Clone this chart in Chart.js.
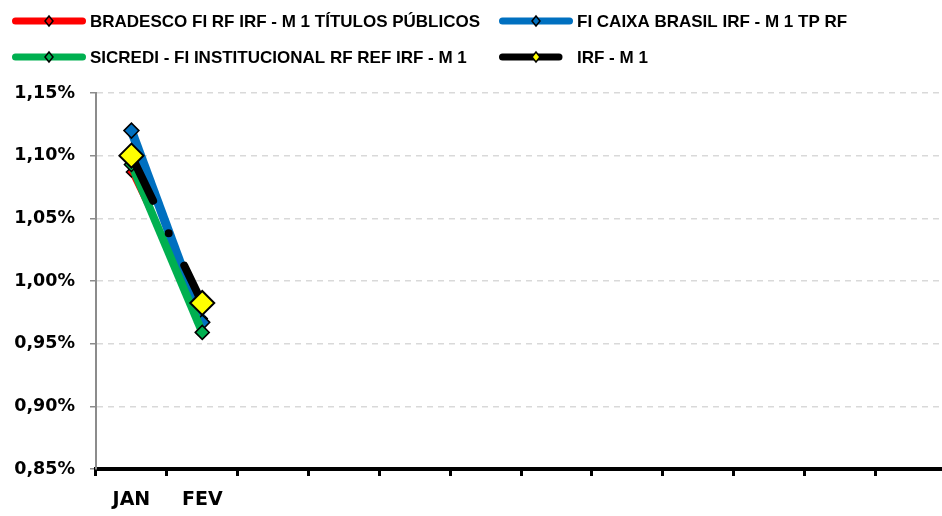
<!DOCTYPE html>
<html>
<head>
<meta charset="utf-8">
<script src="https://cdn.jsdelivr.net/npm/chart.js@4.4.1/dist/chart.umd.min.js"></script>
<style>
  html, body { margin: 0; background: #fff; overflow: hidden; }
  /* o grafico do Excel continua alem da borda direita */
  #wrap { width: 960px; height: 516px; }
</style>
</head>
<body>
<div id="wrap"><canvas id="myChart"></canvas></div>
<script>
// meses (so JAN e FEV tem dados)
var meses = ["JAN", "FEV", "", "", "", "", "", "", "", "", "", ""];
var bradesco = [1.087, 0.970];
var caixa = [1.120, 0.967];
var sicredi = [1.093, 0.959];
var irfm1 = [1.100, 0.9825];
var yTicks = [0.85, 0.90, 0.95, 1.00, 1.05, 1.10, 1.15];

var nomes = ["BRADESCO FI RF IRF - M 1 TÍTULOS PÚBLICOS", "FI CAIXA BRASIL IRF - M 1 TP RF",
             "SICREDI - FI INSTITUCIONAL RF REF IRF - M 1", "IRF - M 1"];

var fonteLegenda = "bold 17px 'Liberation Sans', Arial";
var fonteEixo = "'DejaVu Sans', Verdana, sans-serif";

// legenda desenhada na mao (Excel alinha em colunas)
var legendaPlugin = {
    id: 'legendaExcel',
    afterDraw: function (chart) {
        var c = chart.ctx;
        var ds = chart.data.datasets;
        var pos = [[7, 21], [494, 21], [7, 57], [494, 57]];
        c.save();
        for (var i = 0; i < ds.length; i++) {
            var x = pos[i][0], y = pos[i][1];
            var fim = (i == 3) ? 65 : 75.5;
            c.lineCap = 'round';
            c.lineWidth = 7;
            c.strokeStyle = ds[i].borderColor;
            c.beginPath();
            c.moveTo(x + 8.5, y);
            c.lineTo(x + fim, y);
            c.stroke();
            // losango
            var r = 5;
            var cx = x + 42;
            c.fillStyle = ds[i].pointBackgroundColor;
            c.strokeStyle = '#000';
            c.lineWidth = 1.5;
            c.beginPath();
            c.moveTo(cx, y - r);
            c.lineTo(cx + r * 0.8, y);
            c.lineTo(cx, y + r);
            c.lineTo(cx - r * 0.8, y);
            c.closePath();
            c.fill();
            c.stroke();
            c.fillStyle = '#000';
            c.font = fonteLegenda;
            c.textBaseline = 'middle';
            c.fillText(ds[i].label, x + 83, y + 1);
        }
        c.restore();
    }
};

var ctx = document.getElementById("myChart");

var myLineChart = new Chart(ctx, {
    type: 'line',
    data: {
        labels: meses,
        datasets: [
            {
                label: nomes[0],
                data: bradesco,
                borderColor: "#ff0000",
                backgroundColor: "#ff0000",
                borderWidth: 5,
                pointStyle: 'rectRot',
                pointRadius: 5,
                pointBackgroundColor: "#ff0000",
                pointBorderColor: "#000",
                pointBorderWidth: 1.5,
                order: 4
            },
            {
                label: nomes[1],
                data: caixa,
                borderColor: "#0070c0",
                backgroundColor: "#0070c0",
                borderWidth: 9,
                pointStyle: 'rectRot',
                pointRadius: 7.5,
                pointBackgroundColor: "#0070c0",
                pointBorderColor: "#000",
                pointBorderWidth: 1.5,
                order: 3
            },
            {
                label: nomes[2],
                data: sicredi,
                borderColor: "#00b050",
                backgroundColor: "#00b050",
                borderWidth: 8,
                pointStyle: 'rectRot',
                pointRadius: 7,
                pointBackgroundColor: "#00b050",
                pointBorderColor: "#000",
                pointBorderWidth: 1.5,
                order: 2
            },
            {
                label: nomes[3],
                data: irfm1,
                borderColor: "#000000",
                backgroundColor: "#000000",
                borderWidth: 8,
                borderCapStyle: 'round',
                borderDash: [50, 36, 0, 36],
                pointStyle: 'rectRot',
                pointRadius: 12,
                pointBackgroundColor: "#ffff00",
                pointBorderColor: "#000",
                pointBorderWidth: 2,
                order: 1
            }
        ]
    },
    options: {
        responsive: true,
        maintainAspectRatio: false,
        animation: false,
        layout: { padding: { top: 93, left: 0, right: 0, bottom: 0 } },
        plugins: {
            legend: { display: false },
            tooltip: { enabled: false }
        },
        scales: {
            x: {
                offset: true,
                afterFit: function (s) {
                    s.height = 47;
                    s.paddingLeft = 0;
                    s.paddingRight = 0;
                },
                border: { color: '#000', width: 4 },
                grid: {
                    offset: true,
                    drawOnChartArea: false,
                    tickLength: 7,
                    tickColor: '#000',
                    tickWidth: 3
                },
                ticks: {
                    color: '#000',
                    padding: 13,
                    autoSkip: false,
                    maxRotation: 0,
                    font: { family: fonteEixo, weight: 'bold', size: 19 }
                }
            },
            y: {
                min: 0.85,
                max: 1.15,
                afterFit: function (s) { s.width = 96; },
                afterBuildTicks: function (s) {
                    s.ticks = yTicks.map(function (v) { return { value: v }; });
                },
                border: { color: '#8c8c8c', width: 2, dash: [6, 5] },
                grid: {
                    color: '#d9d9d9',
                    lineWidth: 1.5,
                    tickColor: '#8c8c8c',
                    tickLength: 6
                },
                ticks: {
                    color: '#000',
                    padding: 15,
                    font: { family: fonteEixo, weight: 'bold', size: 17.5 },
                    callback: function (v) { return v.toFixed(2).replace('.', ',') + '%'; }
                }
            }
        }
    },
    plugins: [legendaPlugin]
});
</script>
</body>
</html>
